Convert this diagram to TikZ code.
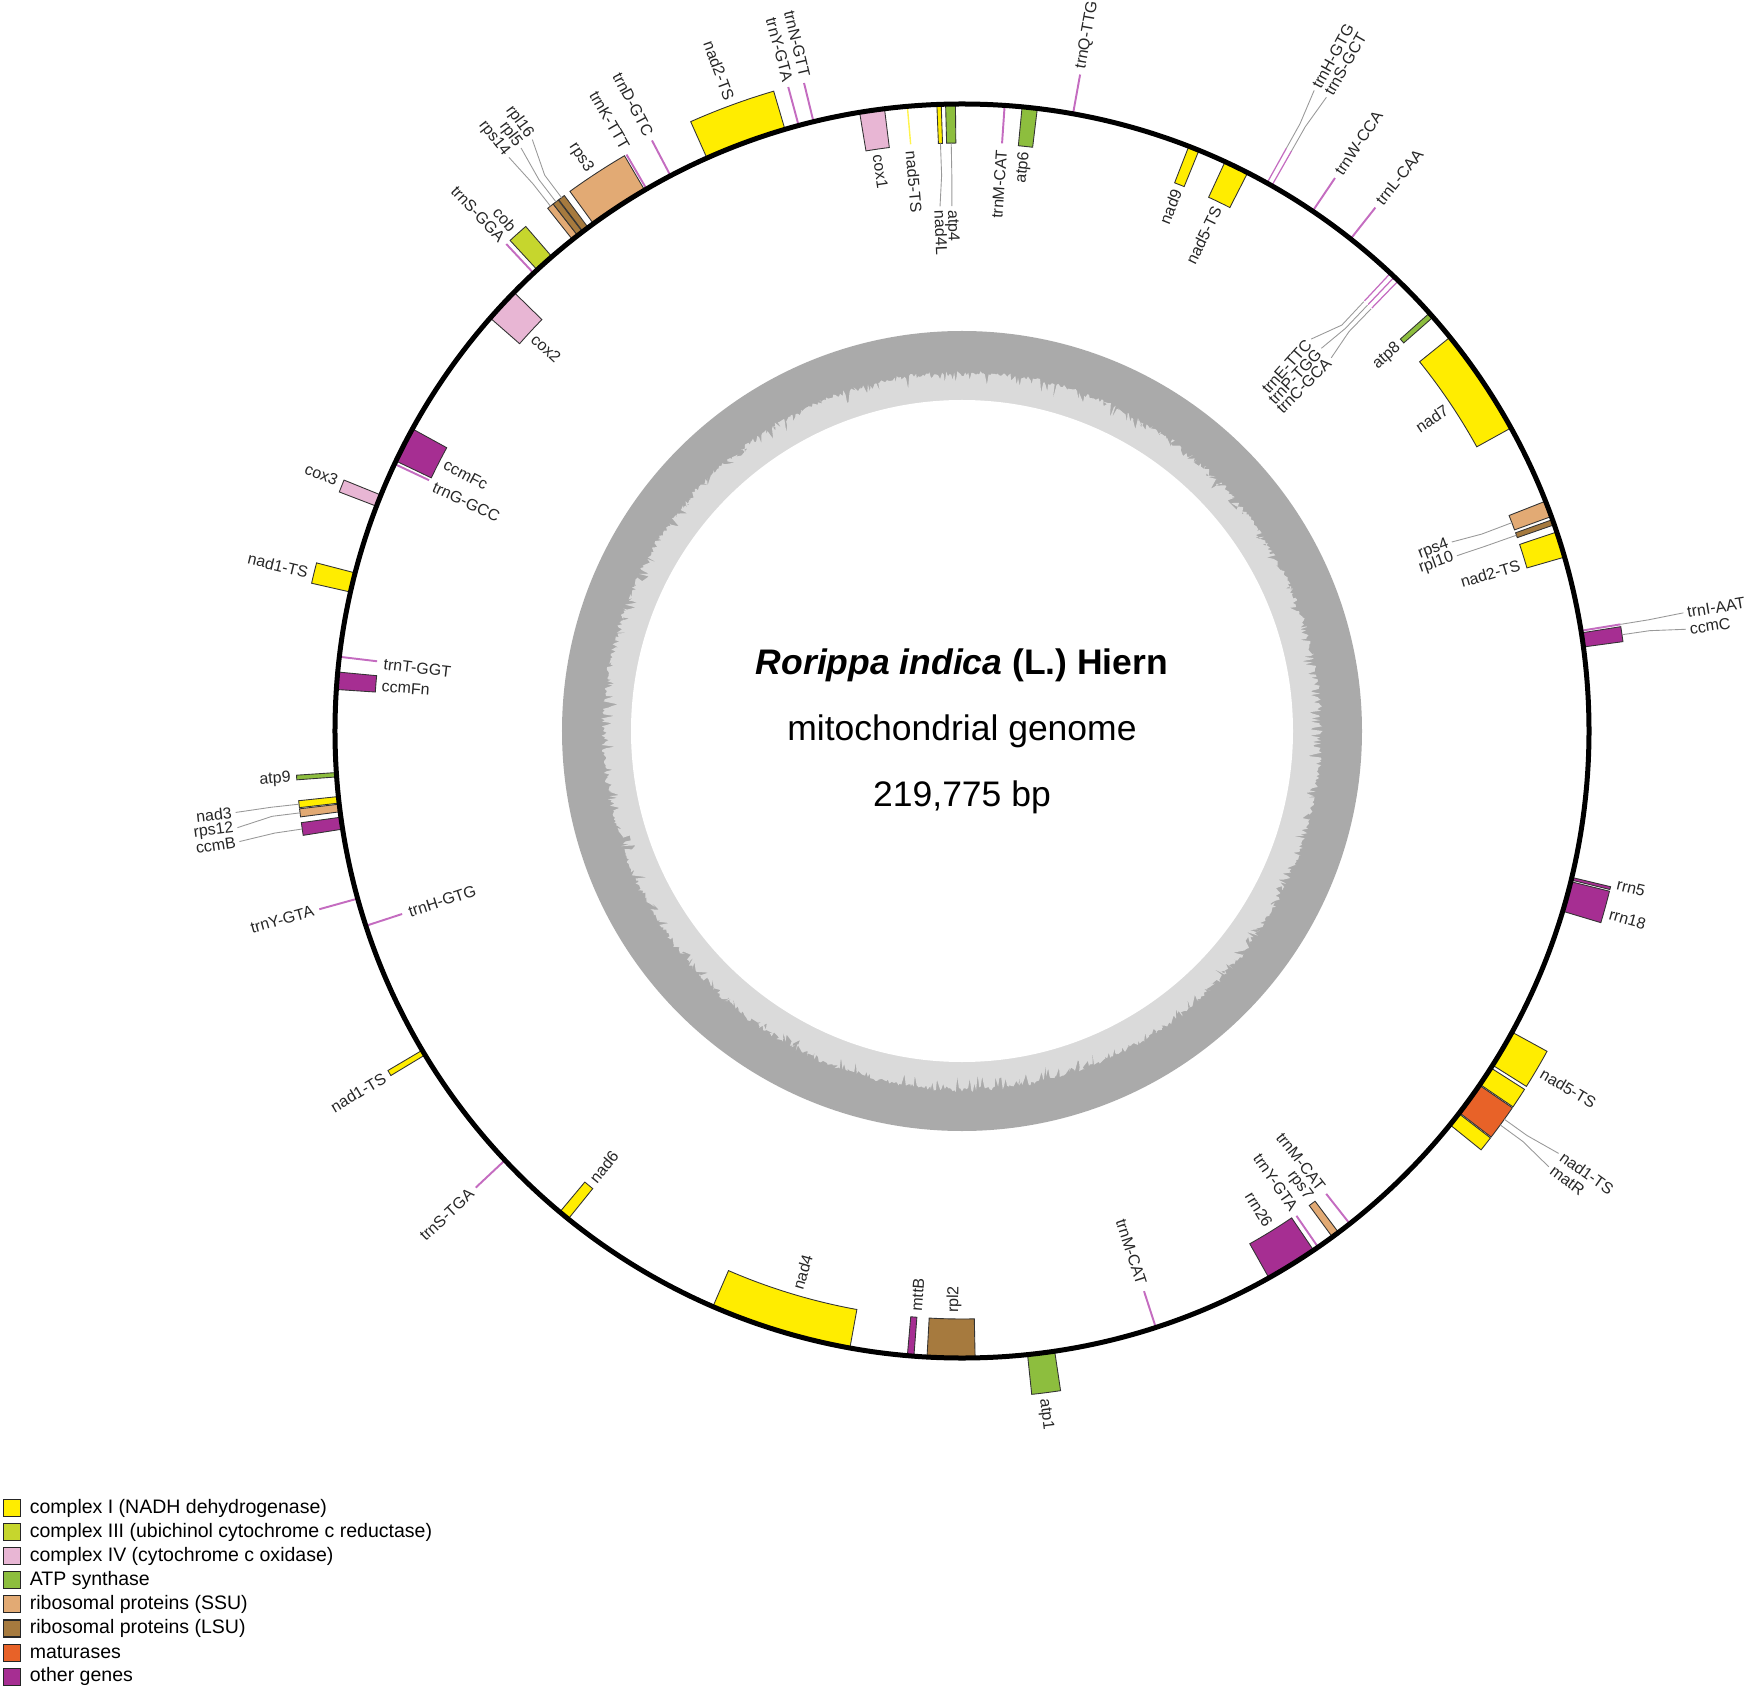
\documentclass[tikz,border=0pt]{standalone}
\usepackage{fontspec}
\setmainfont{Liberation Sans}
\usepackage{xcolor}
\usepackage{tikz}
\usetikzlibrary{positioning,calc}

\definecolor{cI}{RGB}{255,237,0}
\definecolor{cIII}{RGB}{198,214,45}
\definecolor{cIV}{RGB}{232,182,212}
\definecolor{cATP}{RGB}{141,190,62}
\definecolor{cSSU}{RGB}{226,170,116}
\definecolor{cLSU}{RGB}{166,122,62}
\definecolor{cMAT}{RGB}{232,98,40}
\definecolor{cOTH}{RGB}{166,46,146}
\definecolor{ctrna}{RGB}{196,108,192}
\definecolor{gcdark}{RGB}{170,170,170}
\definecolor{gclight}{RGB}{218,218,218}

\tikzset{
	gene/.style={draw=black!80, line width=0.5pt},
	trna/.style={draw=ctrna, line width=1.1pt},
	leader/.style={draw=black!40, line width=0.5pt},
	lbl/.style={inner sep=0pt, outer sep=0pt, text=black!85, font=\fontsize{9.1}{10}\selectfont},
	gtitle/.style={inner sep=0pt, font=\fontsize{20.2}{24}\selectfont},
	keybox/.style={draw=black!85, line width=0.6pt, minimum size=3.4mm, inner sep=0pt},
	keytext/.style={inner sep=0pt, font=\fontsize{11.1}{13}\selectfont}
}

% gene boxes: inside / outside the genome circle
\newcommand{\genein}[3]{\filldraw[gene, fill=#3] (#1:588) arc[start angle=#1, end angle=#2, radius=588] -- (#2:626) arc[start angle=#2, end angle=#1, radius=626] -- cycle;}
\newcommand{\geneout}[3]{\filldraw[gene, fill=#3] (#1:628) arc[start angle=#1, end angle=#2, radius=628] -- (#2:667) arc[start angle=#2, end angle=#1, radius=667] -- cycle;}
\newcommand{\trnain}[1]{\draw[trna] (#1:589) -- (#1:626);}
\newcommand{\trnaout}[1]{\draw[trna] (#1:629) -- (#1:667);}

% radial labels
\newcommand{\labout}[4][673]{%
	\pgfmathtruncatemacro{\rside}{cos(#3)>=0}%
	\ifnum\rside=1 \node[lbl, rotate=#3, anchor=west] (#2) at (#3:#1) {#4};%
	\else \node[lbl, rotate=#3+180, anchor=east] (#2) at (#3:#1) {#4};\fi}
\newcommand{\labin}[4][582]{%
	\pgfmathtruncatemacro{\rside}{cos(#3)<=0}%
	\ifnum\rside=1 \node[lbl, rotate=#3+180, anchor=west] (#2) at (#3:#1) {#4};%
	\else \node[lbl, rotate=#3, anchor=east] (#2) at (#3:#1) {#4};\fi}

% labels with a leader line
\newcommand{\leadout}[4]{%
	\coordinate (#1-g) at (#2:667);
	\coordinate (#1-k) at (#2:695);
	\coordinate (#1-e) at (#3:731);
	\draw[leader] (#1-g) -- (#1-k) -- (#1-e);
	\labout[735]{#1}{#3}{#4}}
\newcommand{\leadin}[4]{%
	\coordinate (#1-g) at (#2:588);
	\coordinate (#1-k) at (#2:556);
	\coordinate (#1-e) at (#3:525);
	\draw[leader] (#1-g) -- (#1-k) -- (#1-e);
	\labin[521]{#1}{#3}{#4}}

\begin{document}
\begin{tikzpicture}[x=0.2mm, y=0.2mm]
	\useasboundingbox (-962,-960) rectangle (793,731);

	% GC content ring
	\fill[gcdark] (0,0) circle (400);
	\pgfmathsetseed{2718}
	\fill[gclight] plot[domain=0:359.75, samples=1440, variable=\t] (\t:{357+4*rnd-14*pow(rnd,5)}) -- cycle;
	\fill[white] (0,0) circle (331);

	% outside genes
	\trnaout{133.1}			\labout{trnS-GGA}{133.1}{trnS-GGA}
	\geneout{130.85}{132.65}{cIII}	\labout{cob}{131.8}{cob}
	\geneout{127.8}{128.4}{cSSU}
	\geneout{127.25}{127.8}{cLSU}
	\geneout{126.6}{127.2}{cLSU}
	\leadout{rps14}{128.1}{128.3}{rps14}
	\leadout{rpl5}{127.5}{127.1}{rpl5}
	\leadout{rpl16}{126.9}{126.0}{rpl16}
	\geneout{120.4}{126.0}{cSSU}	\labout{rps3}{123.6}{rps3}
	\trnaout{120.2}			\labout{trnK-TTT}{120.0}{trnK-TTT}
	\trnaout{117.7}			\labout{trnD-GTC}{117.7}{trnD-GTC}
	\geneout{106.4}{114.0}{cI}	\labout{nad2-TS-a}{110.2}{nad2-TS}
	\trnaout{105.1}			\labout{trnY-GTA-a}{105.0}{trnY-GTA}
	\trnaout{103.7}			\labout{trnN-GTT}{103.5}{trnN-GTT}
	\trnaout{79.8}			\labout{trnQ-TTG}{79.8}{trnQ-TTG}
	\draw[trna, line width=0.7pt] (60.9:629) -- (60.9:667);
	\draw[trna, line width=0.7pt] (60.4:629) -- (60.4:667);
	\leadout{trnH-GTG-a}{60.9}{61.2}{trnH-GTG}
	\leadout{trnS-GCT}{60.4}{60.1}{trnS-GCT}
	\trnaout{56.0}			\labout{trnW-CCA}{56.0}{trnW-CCA}
	\trnaout{51.7}			\labout{trnL-CAA}{51.7}{trnL-CAA}
	\geneout{7.7}{9.0}{cOTH}
	\trnaout{9.2}
	\leadout{trnI-AAT}{9.2}{9.3}{trnI-AAT}
	\leadout{ccmC}{8.3}{8.0}{ccmC}
	\geneout{-13.75}{-13.5}{cOTH}	\labout{rrn5}{-13.2}{rrn5}
	\geneout{-16.7}{-13.9}{cOTH}	\labout{rrn18}{-15.8}{rrn18}
	\geneout{-32.2}{-28.7}{cI}	\labout{nad5-TS-a}{-30.5}{nad5-TS}
	\geneout{-34.3}{-32.5}{cI}
	\geneout{-37.5}{-34.4}{cMAT}
	\geneout{-38.9}{-37.6}{cI}
	\leadout{nad1-TS-a}{-35.6}{-35.3}{nad1-TS}
	\leadout{matR}{-36.2}{-36.6}{matR}
	\geneout{276.0}{278.5}{cATP}	\labout{atp1}{277.0}{atp1}
	\trnaout{223.2}			\labout{trnS-TGA}{223.2}{trnS-TGA}
	\geneout{210.6}{211.1}{cI}	\labout{nad1-TS-b}{210.9}{nad1-TS}
	\trnaout{195.5}			\labout{trnY-GTA-b}{195.5}{trnY-GTA}
	\geneout{183.8}{184.2}{cATP}	\labout{atp9}{184.0}{atp9}
	\geneout{186.0}{186.6}{cI}
	\geneout{186.7}{187.4}{cSSU}
	\geneout{187.9}{189.0}{cOTH}
	\leadout{nad3}{186.3}{186.4}{nad3}
	\leadout{rps12}{187.05}{187.6}{rps12}
	\leadout{ccmB}{188.45}{188.7}{ccmB}
	\geneout{165.4}{167.2}{cI}	\labout{nad1-TS-c}{166.4}{nad1-TS}
	\geneout{157.9}{159.0}{cIV}	\labout{cox3}{158.2}{cox3}

	% inside genes
	\genein{97.1}{99.4}{cIV}		\labin{cox1}{98.3}{cox1}
	\draw[line width=0.8pt, cI!70!white] (95:589) -- (95:626);
	\labin{nad5-TS-b}{95.0}{nad5-TS}
	\genein{91.9}{92.3}{cI}
	\genein{90.6}{91.5}{cATP}
	\leadin{nad4L}{92.1}{92.4}{nad4L}
	\leadin{atp4}{91.05}{91.1}{atp4}
	\trnain{86.1}			\labin{trnM-CAT-a}{86.1}{trnM-CAT}
	\genein{83.1}{84.5}{cATP}	\labin{atp6}{83.8}{atp6}
	\genein{67.8}{68.8}{cI}		\labin{nad9}{68.3}{nad9}
	\genein{62.9}{65.2}{cI}		\labin{nad5-TS-c}{64.0}{nad5-TS}
	\draw[trna, line width=0.7pt] (46.9:589) -- (46.9:626);
	\draw[trna, line width=0.7pt] (46.4:589) -- (46.4:626);
	\draw[trna, line width=0.7pt] (45.9:589) -- (45.9:626);
	\leadin{trnE-TTC}{46.9}{48.3}{trnE-TTC}
	\leadin{trnP-TGG}{46.4}{46.8}{trnP-TGG}
	\leadin{trnC-GCA}{45.9}{45.3}{trnC-GCA}
	\genein{41.3}{41.8}{cATP}	\labin{atp8}{41.4}{atp8}
	\genein{28.9}{38.9}{cI}		\labin{nad7}{33.6}{nad7}
	\genein{20.0}{21.5}{cSSU}
	\genein{19.2}{19.7}{cLSU}
	\leadin{rps4}{20.75}{21.1}{rps4}
	\leadin{rpl10}{19.45}{19.5}{rpl10}
	\genein{16.1}{18.5}{cI}		\labin{nad2-TS-b}{16.6}{nad2-TS}
	\trnain{-51.8}			\labin{trnM-CAT-b}{-51.8}{trnM-CAT}
	\genein{-53.8}{-53.1}{cSSU}	\labin{rps7}{-53.4}{rps7}
	\trnain{-55.4}			\labin{trnY-GTA-c}{-55.2}{trnY-GTA}
	\genein{-60.7}{-55.9}{cOTH}	\labin{rrn26}{-58.2}{rrn26}
	\trnain{288.0}			\labin{trnM-CAT-c}{288.0}{trnM-CAT}
	\genein{266.8}{271.2}{cLSU}	\labin{rpl2}{269.2}{rpl2}
	\genein{265.0}{265.6}{cOTH}	\labin{mttB}{265.5}{mttB}
	\genein{246.6}{259.7}{cI}	\labin{nad4}{253.6}{nad4}
	\genein{230.1}{231.1}{cI}	\labin{nad6}{230.6}{nad6}
	\trnain{198.1}			\labin{trnH-GTG-b}{198.1}{trnH-GTG}
	\genein{174.6}{176.2}{cOTH}	\labin{ccmFn}{175.6}{ccmFn}
	\trnain{173.2}			\labin{trnT-GGT}{173.4}{trnT-GGT}
	\genein{151.2}{154.5}{cOTH}	\labin{ccmFc}{152.7}{ccmFc}
	\trnain{154.8}			\labin{trnG-GCC}{155.2}{trnG-GCC}
	\genein{135.6}{138.8}{cIV}	\labin{cox2}{137.4}{cox2}

	% genome circle
	\draw[line width=1mm] (0,0) circle (627);

	% centre text
	\node[gtitle] (name) at (0,66) {\textbf{\textit{Rorippa indica}} \textbf{(L.) Hiern}};
	\node[gtitle] (kind) at (0,0) {mitochondrial genome};
	\node[gtitle] (size) at (0,-66) {219,775 bp};

	% legend
	\foreach \col/\txt [count=\i] in {cI/complex I (NADH dehydrogenase), cIII/complex III (ubichinol cytochrome c reductase), cIV/complex IV (cytochrome c oxidase), cATP/ATP synthase, cSSU/ribosomal proteins (SSU), cLSU/ribosomal proteins (LSU), cMAT/maturases, cOTH/other genes}{
		\node[keybox, fill=\col] (key\i) at (-950,{-777-24.1*(\i-1)}) {};
		\node[keytext, right=1.7mm of key\i] (keytext\i) {\txt};
	}
\end{tikzpicture}
\end{document}
